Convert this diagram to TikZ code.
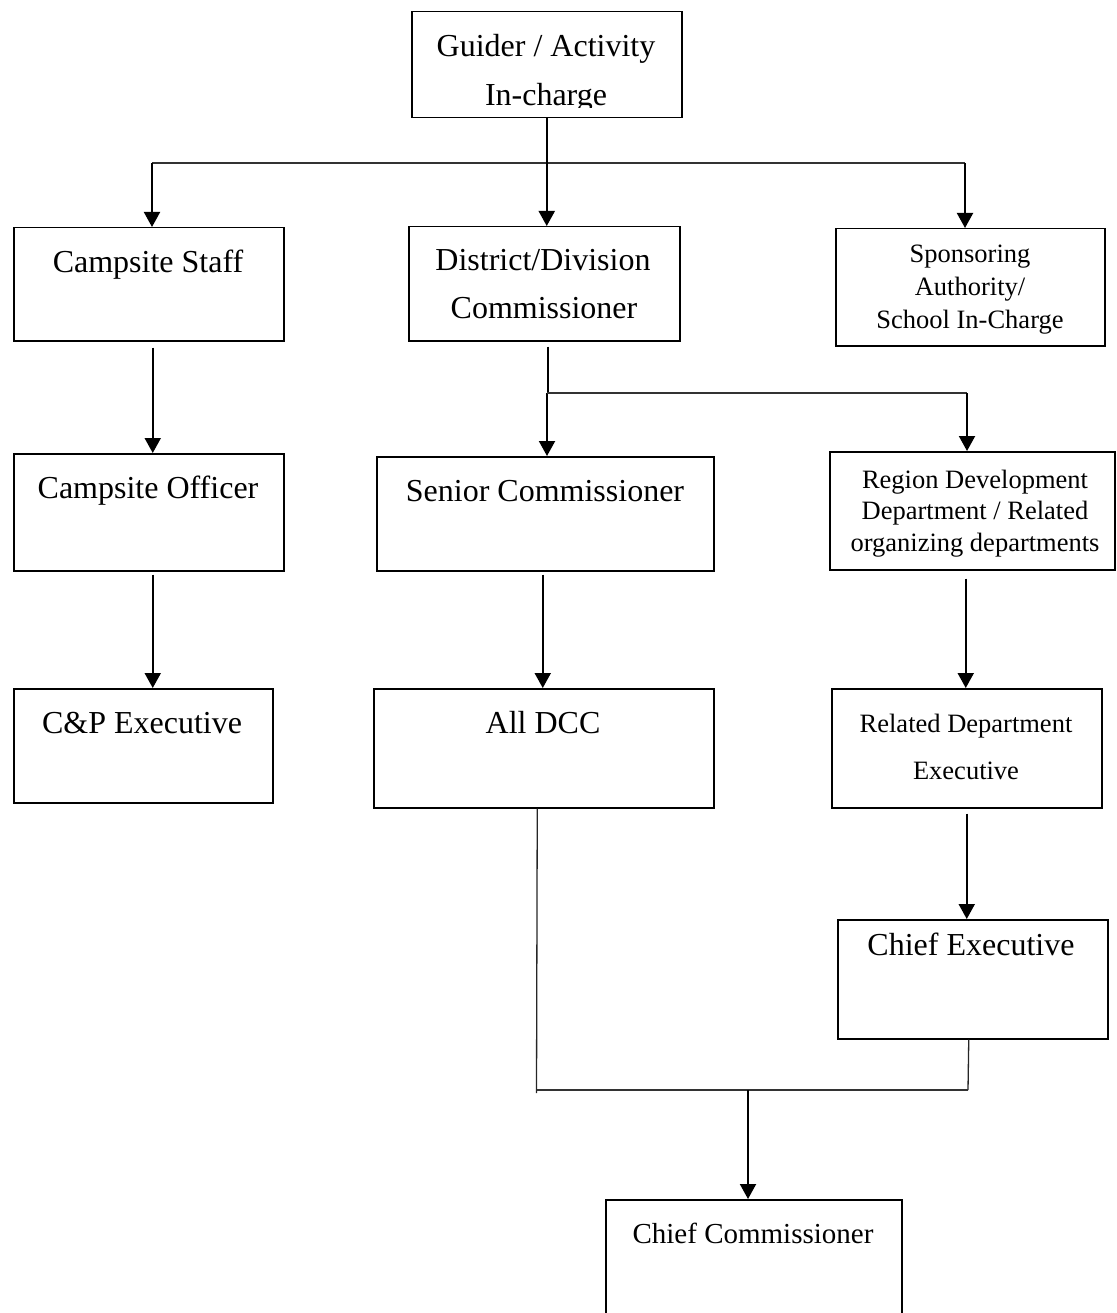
\documentclass[tikz,border=0pt]{standalone}
\usepackage{fontspec}
\setmainfont{Liberation Serif}
\usetikzlibrary{arrows.meta}
\begin{document}
\begin{tikzpicture}[x=1pt,y=-1pt,
  box/.style={draw, line width=1.5pt, rectangle, anchor=north west, inner sep=0pt},
  big/.style={anchor=base, inner sep=0pt, font=\fontsize{32}{38}\selectfont},
  small/.style={anchor=base, inner sep=0pt, font=\fontsize{26.5}{32}\selectfont},
  mid/.style={anchor=base, inner sep=0pt, font=\fontsize{29}{35}\selectfont},
  arr/.style={line width=2pt, -{Triangle[width=16pt,length=15pt]}},
  trunk/.style={line width=2pt},
  branch/.style={line width=1.1pt, black!80},
  thinv/.style={line width=1.3pt, black!85}]
\useasboundingbox (0,0) rectangle (1116,1313);
\clip (0,0) rectangle (1116,1313);

% boxes
\node[box, minimum width=270pt, minimum height=106pt] (gd)  at (411,11)   {};
\node[box, minimum width=270pt, minimum height=113pt] (cs)  at (13,227)   {};
\node[box, minimum width=271pt, minimum height=114pt] (dd)  at (408,226)  {};
\node[box, minimum width=269pt, minimum height=117pt] (sp)  at (835,228)  {};
\node[box, minimum width=270pt, minimum height=117pt] (co)  at (13,453)   {};
\node[box, minimum width=337pt, minimum height=114pt] (sc)  at (376,456)  {};
\node[box, minimum width=285pt, minimum height=118pt] (rd)  at (829,451)  {};
\node[box, minimum width=259pt, minimum height=114pt] (cp)  at (13,688)   {};
\node[box, minimum width=340pt, minimum height=119pt] (dcc) at (373,688)  {};
\node[box, minimum width=270pt, minimum height=119pt] (rde) at (831,688)  {};
\node[box, minimum width=270pt, minimum height=119pt] (ce)  at (837,919)  {};
\node[box, minimum width=296pt, minimum height=140pt] (cc)  at (605,1199) {};

% texts
\node[big] (gd1) at (546,57) {Guider / Activity};
\begin{scope}
  \clip (411,11) rectangle (681,107.5);
  \node[big] (gd2) at (546,106) {In-charge};
\end{scope}
\node[big] (cs1) at (148,273) {Campsite Staff};
\node[big] (dd1) at (543,271) {District/Division};
\node[big] (dd2) at (544,319) {Commissioner};
\node[small] (sp1) at (970,263) {Sponsoring};
\node[small] (sp2) at (970,295) {Authority/};
\node[small] (sp3) at (970,328) {School In-Charge};
\node[big] (co1) at (148,498) {Campsite Officer};
\node[big] (sc1) at (545,501) {Senior Commissioner};
\node[small] (rd1) at (975,488) {Region Development};
\node[small] (rd2) at (975,519) {Department / Related};
\node[small] (rd3) at (975,551) {organizing departments};
\node[big] (cp1) at (142,733) {C\&P Executive};
\node[big] (dcc1) at (543,733) {All DCC};
\node[small] (rde1) at (966,732) {Related Department};
\node[small] (rde2) at (966,779) {Executive};
\node[big] (ce1) at (971,955) {Chief Executive};
\node[mid] (cc1) at (753,1243) {Chief Commissioner};

% junctions
\coordinate (jl) at (152,163);
\coordinate (jr) at (965,163);
\coordinate (j2) at (547,393);
\coordinate (j3) at (967,393);
\coordinate (j4) at (537,1090);
\coordinate (j5) at (968,1090);
\coordinate (j6) at (536.5,1093);
\coordinate (j7) at (748,1090);

% connectors
\draw[branch] (jl) -- (jr);
\draw[arr] (gd.south) -- (gd.south |- dd.north);
\draw[arr] (jl) -- (jl |- cs.north);
\draw[arr] (jr) -- (jr |- sp.north);

\draw[arr] ([xshift=4pt,yshift=-6pt]cs.south) coordinate (a1) -- (a1 |- co.north);
\draw[arr] ([xshift=4pt,yshift=-3pt]co.south) coordinate (a2) -- (a2 |- cp.north);

\draw[trunk] ([xshift=3.5pt,yshift=-5pt]dd.south) coordinate (a3) -- (a3 |- j2);
\draw[arr] (j2) -- (j2 |- sc.north);
\draw[branch] (j2) -- (j3);
\draw[arr] (j3) -- (j3 |- rd.north);

\draw[arr] ([xshift=-2.5pt,yshift=-3pt]sc.south) coordinate (a4) -- (a4 |- dcc.north);
\draw[arr] ([xshift=-6.5pt,yshift=-8pt]rd.south) coordinate (a5) -- (a5 |- rde.north);
\draw[arr] ([yshift=-5pt]rde.south) coordinate (a6) -- (a6 |- ce.north);

\draw[thinv] ([xshift=-6.5pt]dcc.south) -- (j6);
\draw[thinv] ([xshift=-4pt]ce.south) -- (j5);
\draw[branch] (j4) -- (j5);
\draw[arr] (j7) -- (j7 |- cc.north);
\end{tikzpicture}
\end{document}
